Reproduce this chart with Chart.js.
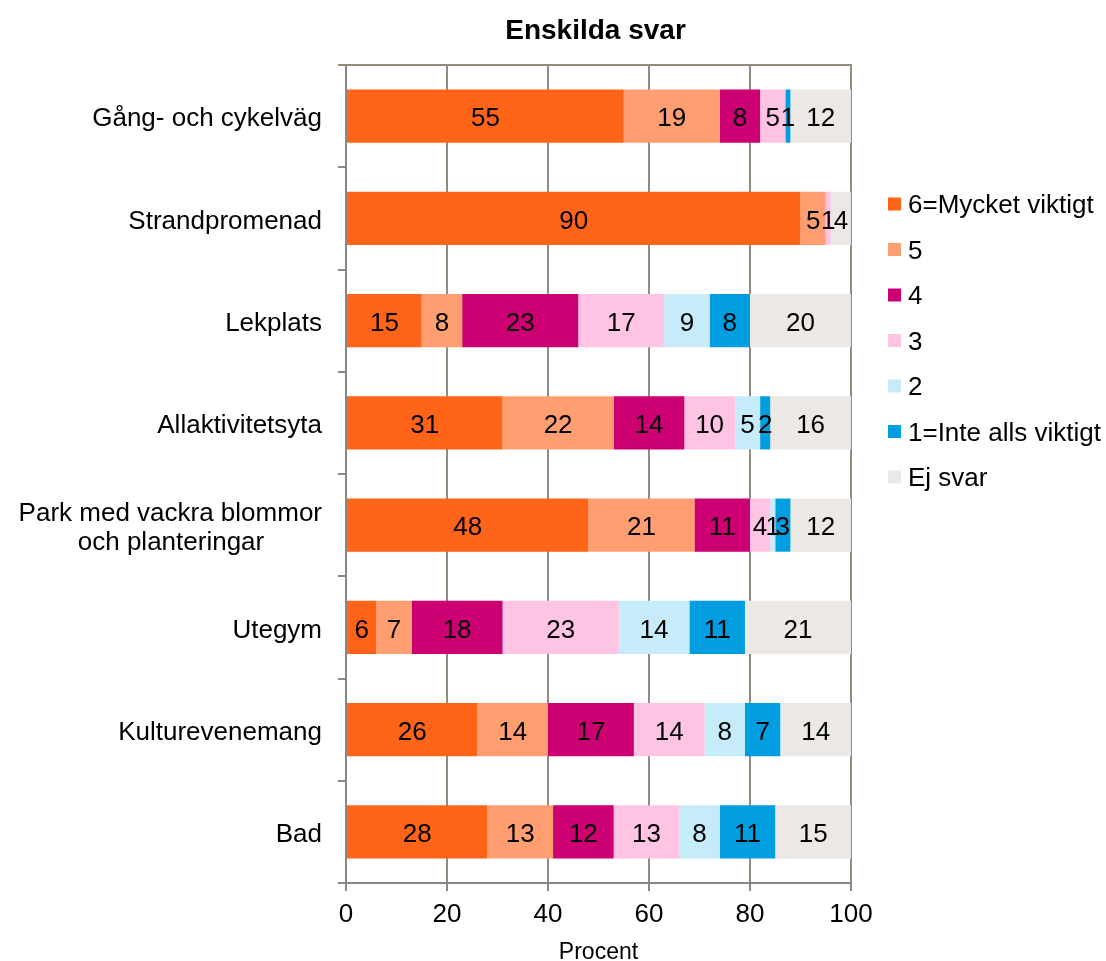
<!DOCTYPE html>
<html>
<head>
<meta charset="utf-8">
<title>Enskilda svar</title>
<script src="https://cdn.jsdelivr.net/npm/chart.js@4.4.0/dist/chart.umd.min.js"></script>
<style>
  html, body { margin: 0; padding: 0; background: #fff; }
  #wrap { width: 1106px; height: 961px; }
</style>
</head>
<body>
<div id="wrap"><canvas id="chart" width="1106" height="961"></canvas></div>
<script>
const categories = [
    'Gång- och cykelväg',
    'Strandpromenad',
    'Lekplats',
    'Allaktivitetsyta',
    ['Park med vackra blommor', 'och planteringar'],
    'Utegym',
    'Kulturevenemang',
    'Bad'
];
const seriesNames = ['6=Mycket viktigt', '5', '4', '3', '2', '1=Inte alls viktigt', 'Ej svar'];
const seriesColors = ['#FF6418', '#FF9F71', '#CC0072', '#FFC4E4', '#C6EBFB', '#009EE0', '#EBE8E5'];

const svar6 = [55, 90, 15, 31, 48, 6, 26, 28];
const svar5 = [19, 5, 8, 22, 21, 7, 14, 13];
const svar4 = [8, 0, 23, 14, 11, 18, 17, 12];
const svar3 = [5, 1, 17, 10, 4, 23, 14, 13];
const svar2 = [0, 0, 9, 5, 1, 14, 8, 8];
const svar1 = [1, 0, 8, 2, 3, 11, 7, 11];
const ejSvar = [12, 4, 20, 16, 12, 21, 14, 15];

const xTicks = [0, 20, 40, 60, 80, 100];

const FONT = "'Liberation Sans', Arial, sans-serif";
const gridColor = '#958B7D';
const axisColor = '#878787';

const seriesValues = [svar6, svar5, svar4, svar3, svar2, svar1, ejSvar];

// center the lines of a multi-line category label by padding with spaces
const measureCtx = document.createElement('canvas').getContext('2d');
measureCtx.font = '26px ' + FONT;
function centerLines(lines) {
    const widths = lines.map(l => measureCtx.measureText(l).width);
    const maxW = Math.max(...widths);
    const spaceW = measureCtx.measureText(' ').width;
    return lines.map((l, i) => l + ' '.repeat(Math.round((maxW - widths[i]) / 2 / spaceW)));
}

const extras = {
    id: 'extras',
    beforeDatasetsDraw(chart) {
        const ctx = chart.ctx;
        const area = chart.chartArea;
        ctx.save();
        ctx.strokeStyle = gridColor;
        ctx.lineWidth = 2;
        ctx.beginPath();
        ctx.moveTo(area.left - 8, area.top);
        ctx.lineTo(area.right + 1, area.top);
        ctx.stroke();
        ctx.restore();
    },
    afterDatasetsDraw(chart) {
        const ctx = chart.ctx;
        ctx.save();
        ctx.font = '26px ' + FONT;
        ctx.fillStyle = '#000';
        ctx.textAlign = 'center';
        ctx.textBaseline = 'middle';
        chart.data.datasets.forEach((ds, i) => {
            const meta = chart.getDatasetMeta(i);
            meta.data.forEach((el, j) => {
                const v = ds.data[j];
                if (!v) return;
                const p = el.getProps(['x', 'base', 'y'], true);
                ctx.fillText(String(v), (p.x + p.base) / 2, p.y + 3);
            });
        });
        ctx.restore();
    },
    afterDraw(chart) {
        const ctx = chart.ctx;
        const area = chart.chartArea;
        ctx.save();
        // title over the plot area
        ctx.font = 'bold 28px ' + FONT;
        ctx.fillStyle = '#000';
        ctx.textAlign = 'center';
        ctx.textBaseline = 'alphabetic';
        ctx.fillText('Enskilda svar', (area.left + area.right) / 2 - 3, 39);

        // legend
        ctx.font = '26px ' + FONT;
        ctx.textAlign = 'left';
        ctx.textBaseline = 'middle';
        const lx = area.right + 37;
        chart.data.datasets.forEach((ds, i) => {
            const cy = 204 + i * 45.5;
            ctx.fillStyle = ds.backgroundColor;
            ctx.fillRect(lx, cy - 6.5, 13, 13);
            ctx.fillStyle = '#000';
            ctx.fillText(ds.label, lx + 20, cy + 2);
        });
        ctx.restore();
    }
};

new Chart(document.getElementById('chart'), {
    type: 'bar',
    data: {
        labels: categories,
        datasets: seriesNames.map((name, i) => ({
            label: name,
            data: seriesValues[i],
            backgroundColor: seriesColors[i],
            borderWidth: 0,
            barPercentage: 0.52,
            categoryPercentage: 1
        }))
    },
    options: {
        responsive: false,
        animation: false,
        indexAxis: 'y',
        layout: { padding: { left: 0, right: 255, top: 65, bottom: 0 } },
        plugins: {
            legend: { display: false },
            tooltip: { enabled: false },
            title: { display: false }
        },
        scales: {
            x: {
                stacked: true,
                min: 0,
                max: 100,
                afterBuildTicks: scale => { scale.ticks = xTicks.map(v => ({ value: v })); },
                afterFit: scale => { scale.height = 78; },
                ticks: { color: '#000', padding: 8, font: { family: FONT, size: 26 } },
                grid: { color: gridColor, tickColor: axisColor, tickLength: 8, lineWidth: 2 },
                border: { color: axisColor, width: 2 },
                title: {
                    display: true,
                    text: 'Procent',
                    color: '#000',
                    font: { family: FONT, size: 23 },
                    padding: { top: 0, bottom: -5 }
                }
            },
            y: {
                stacked: true,
                afterFit: scale => { scale.width = 346; },
                ticks: {
                    color: '#000',
                    padding: 16,
                    labelOffset: 3,
                    font: { family: FONT, size: 26, lineHeight: 1.12 },
                    callback: function(value) {
                        const lab = this.getLabelForValue(value);
                        return Array.isArray(lab) ? centerLines(lab) : lab;
                    }
                },
                grid: { display: true, drawOnChartArea: false, offset: true, tickLength: 8, color: axisColor, lineWidth: 2 },
                border: { color: axisColor, width: 2 }
            }
        }
    },
    plugins: [extras]
});
</script>
</body>
</html>
